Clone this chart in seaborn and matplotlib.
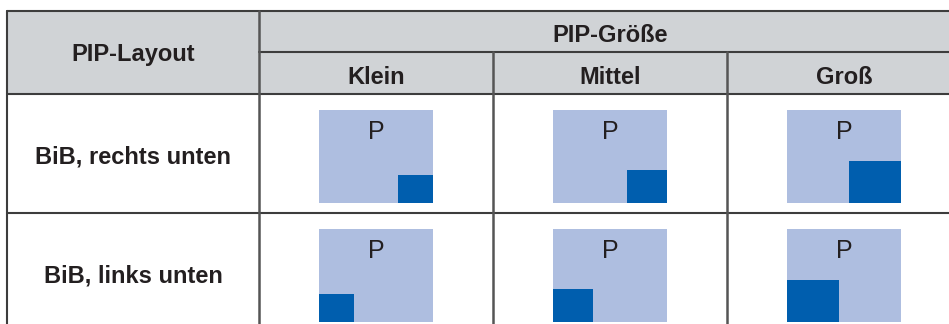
import matplotlib
matplotlib.use("Agg")
import matplotlib.pyplot as plt
import seaborn as sns

# Tabelle: PIP-Layout x PIP-Größe
layouts = ["BiB, rechts unten", "BiB, links unten"]
corners = ["right", "left"]
sizes = ["Klein", "Mittel", "Groß"]
pip_w = [0.31, 0.35, 0.46]   # Anteil an der Breite des Hauptbilds
pip_h = [0.30, 0.355, 0.45]  # Anteil an der Höhe des Hauptbilds
main_label = "P"
header_left = "PIP-Layout"
header_top = "PIP-Größe"

sns.set_theme(style="white")
plt.rcParams['font.family'] = ['Liberation Sans', 'DejaVu Sans']

W, H = 949, 324
fig = plt.figure(figsize=(W / 100, H / 100), dpi=100)
ax = fig.add_axes([0, 0, 1, 1])
ax.set_xlim(0, W)
ax.set_ylim(H, 0)
ax.axis('off')

line_c = '#3d3d3d'
grey = '#d0d3d6'
light = '#aebee0'
dark = '#005eae'

x0, x1 = 7, 259
col_w = 234
top, mid, hdr = 11, 52, 94
row_h = 119

# Kopfbereich
ax.bar(x0, hdr - top, width=W - x0, bottom=top, align='edge', color=grey, linewidth=0)

# Linien
ax.plot([x0, W], [top, top], color=line_c, lw=1.5)
ax.plot([x1, W], [mid, mid], color=line_c, lw=1.5)
ax.plot([x0, W], [hdr, hdr], color=line_c, lw=1.5)
ax.plot([x0, W], [hdr + row_h, hdr + row_h], color=line_c, lw=1.5)
ax.plot([x0, x0], [top, H], color=line_c, lw=1.5)
ax.plot([x1, x1], [top, H], color='#555555', lw=1.8)
for j in range(1, len(sizes)):
    xx = x1 + j * col_w
    ax.plot([xx, xx], [mid, H], color='#555555', lw=1.8)

bold = dict(fontsize=17, fontweight='bold', color='#231f20', ha='center', va='center')
ax.text((x0 + x1) / 2, 55, header_left, **bold)
ax.text(x1 + col_w * len(sizes) / 2, 35, header_top, **bold)
for j, s in enumerate(sizes):
    ax.text(x1 + col_w * (j + 0.5), 77, s, **bold)

# Bild-in-Bild Skizzen
sw, sh = 114, 93
for i, (lay, corner) in enumerate(zip(layouts, corners)):
    ry = hdr + i * row_h
    ax.text((x0 + x1) / 2, ry + 63, lay, **bold)
    for j in range(len(sizes)):
        cx = x1 + col_w * (j + 0.5)
        sx = cx - sw / 2
        sy = ry + 16
        ax.bar(sx, sh, width=sw, bottom=sy, align='edge', color=light, linewidth=0)
        pw, ph = sw * pip_w[j], sh * pip_h[j]
        px = sx + sw - pw if corner == "right" else sx
        ax.bar(px, ph, width=pw, bottom=sy + sh - ph, align='edge', color=dark, linewidth=0)
        ax.text(cx, sy + 22, main_label, fontsize=18, color='#231f20', ha='center', va='center')

fig.savefig('out.png', dpi=100)
